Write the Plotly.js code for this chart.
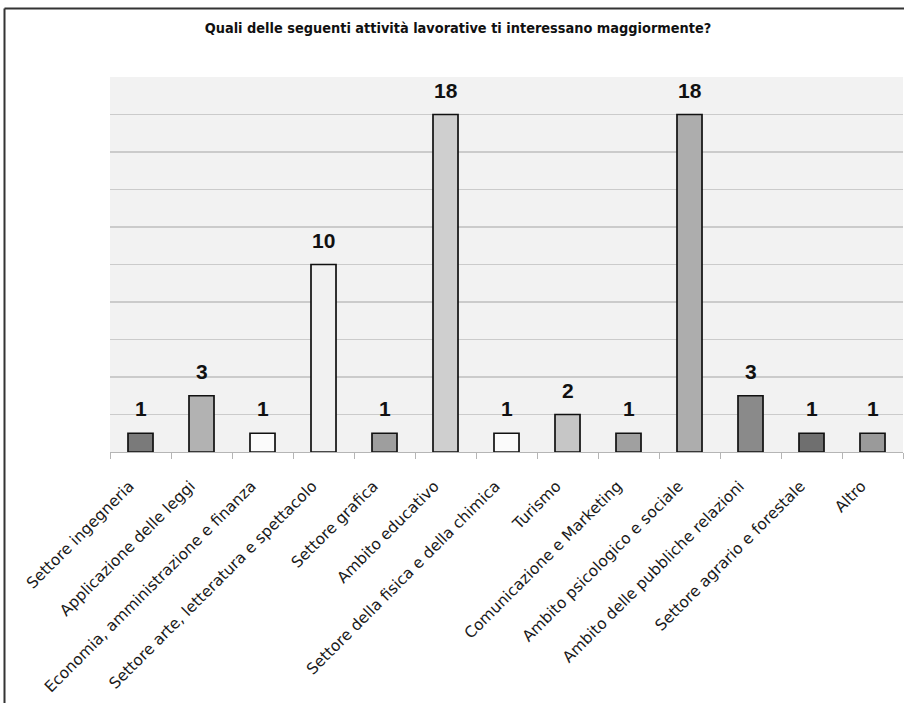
<!DOCTYPE html>
<html>
<head>
<meta charset="utf-8">
<script src="https://cdn.plot.ly/plotly-3.0.1.min.js"></script>
<style>html,body{margin:0;padding:0;background:#fff;}#chart{width:904px;height:703px;}</style>
</head>
<body>
<div id="chart"></div>
<script>
const categories = [
  "Settore ingegneria",
  "Applicazione delle leggi",
  "Economia, amministrazione e finanza",
  "Settore arte, letteratura e spettacolo",
  "Settore grafica",
  "Ambito educativo",
  "Settore della fisica e della chimica",
  "Turismo",
  "Comunicazione e Marketing",
  "Ambito psicologico e sociale",
  "Ambito delle pubbliche relazioni",
  "Settore agrario e forestale",
  "Altro"
];
const values = [1, 3, 1, 10, 1, 18, 1, 2, 1, 18, 3, 1, 1];
const barColors = ["#7a7a7a", "#b2b2b2", "#fbfbfb", "#f1f1f1", "#9e9e9e", "#cfcfcf", "#fbfbfb", "#c6c6c6", "#a0a0a0", "#adadad", "#8a8a8a", "#6f6f6f", "#9a9a9a"];
const titleText = "Quali delle seguenti attività lavorative ti interessano maggiormente?";

const W = 904, H = 703;
const mL = 110, mR = 1, mT = 77, mB = 251;
const pw = W - mL - mR, ph = H - mT - mB;

const trace = {
  type: "bar",
  x: categories,
  y: values,
  width: 0.41,
  marker: {color: barColors, line: {color: "#111", width: 1.7}},
  hoverinfo: "none"
};

const valueLabels = categories.map((c, i) => ({
  x: c, y: values[i], xref: "x", yref: "y",
  text: String(values[i]),
  showarrow: false,
  yanchor: "bottom",
  yshift: 11,
  font: {family: "Liberation Sans, Arial, sans-serif", size: 21, color: "#111", weight: "bold"}
}));

const layout = {
  width: W, height: H,
  margin: {l: mL, r: mR, t: mT, b: mB, pad: 0},
  paper_bgcolor: "#ffffff",
  plot_bgcolor: "#f2f2f2",
  showlegend: false,
  title: {
    text: titleText,
    font: {family: "DejaVu Sans Condensed, DejaVu Sans, sans-serif", size: 14.4, color: "#111", weight: "bold"},
    x: 458 / W, xref: "container", xanchor: "center",
    y: 1 - 28 / H, yref: "container", yanchor: "middle"
  },
  xaxis: {
    type: "category",
    tickangle: -45,
    tickson: "boundaries",
    ticks: "outside",
    ticklen: 6,
    tickcolor: "#b5b5b5",
    showline: true,
    linecolor: "#b5b5b5",
    linewidth: 1,
    showgrid: false,
    ticklabelstandoff: 18,
    ticklabelshift: -11,
    tickfont: {family: "DejaVu Sans, sans-serif", size: 15.5, color: "#1a1a1a"},
    fixedrange: true
  },
  yaxis: {
    range: [0, 20],
    dtick: 2,
    showticklabels: false,
    showgrid: true,
    gridcolor: "#cbcbcb",
    gridwidth: 1.4,
    zeroline: false,
    showline: false,
    ticks: "",
    fixedrange: true
  },
  annotations: valueLabels,
  shapes: [
    {type: "line", xref: "paper", yref: "paper",
     x0: (4.5 - mL) / pw, x1: (W + 5 - mL) / pw,
     y0: 1 + (mT - 8.5) / ph, y1: 1 + (mT - 8.5) / ph,
     line: {color: "#333", width: 2}},
    {type: "line", xref: "paper", yref: "paper",
     x0: (4.5 - mL) / pw, x1: (4.5 - mL) / pw,
     y0: 1 + (mT - 8.5) / ph, y1: -(mB + 5) / ph,
     line: {color: "#333", width: 2}}
  ]
};

Plotly.newPlot("chart", [trace], layout, {staticPlot: true, displayModeBar: false});
</script>
</body>
</html>
